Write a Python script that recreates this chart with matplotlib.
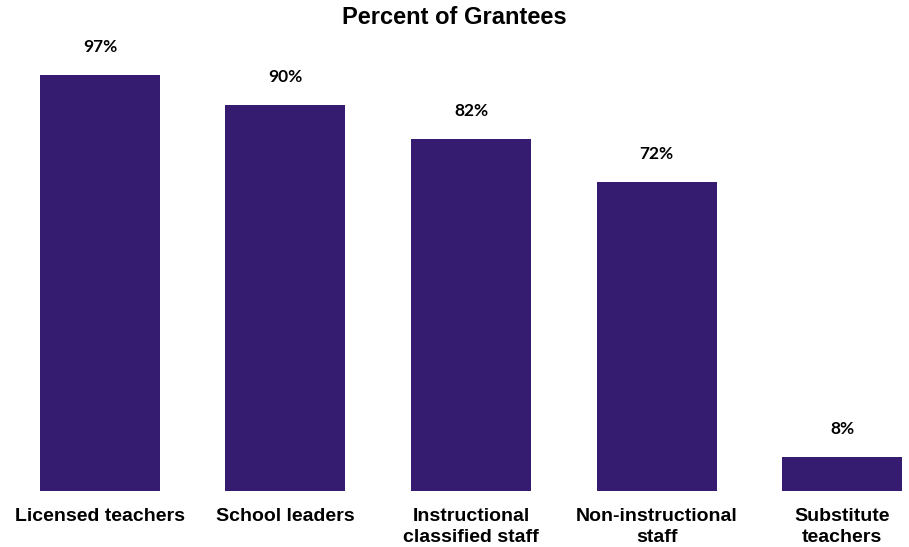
import matplotlib.pyplot as plt

# data
categories = ["Licensed teachers", "School leaders", "Instructional\nclassified staff",
              "Non-instructional\nstaff", "Substitute\nteachers"]
values = [97, 90, 82, 72, 8]
labels = ["97%", "90%", "82%", "72%", "8%"]

fig = plt.figure(figsize=(9.09, 5.47), dpi=100)
ax = fig.add_axes([35 / 909, 0.1024, 872 / 909, 0.7843])

x = range(len(categories))
bars = ax.bar(x, values, width=0.647, color="#361C70")

for b, lab in zip(bars, labels):
    ax.text(b.get_x() + b.get_width() / 2, b.get_height() + 6.5, lab,
            ha="center", va="center", fontsize=12.5, fontweight="bold",
            family="Lato")

ax.set_xlim(-0.35, 4.35)
ax.set_ylim(0, 100)
ax.set_xticks(list(x))
ax.set_xticklabels(categories, fontsize=14, fontweight="bold",
                   family="Liberation Sans", linespacing=1.3)
ax.tick_params(axis="x", length=0, pad=12)
ax.set_yticks([])
for s in ax.spines.values():
    s.set_visible(False)

fig.text(0.5, 0.968, "Percent of Grantees", ha="center", va="center",
         fontsize=17, fontweight="bold", family="Liberation Sans")

fig.savefig("out.png", dpi=100)
